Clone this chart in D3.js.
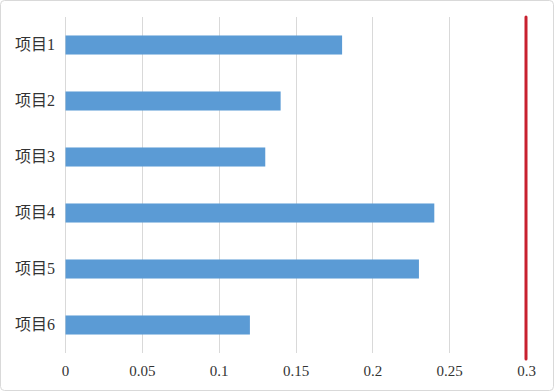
<!DOCTYPE html>
<html><head><meta charset="utf-8">
<script src="https://cdn.jsdelivr.net/npm/d3@7"></script>
<style>html,body{margin:0;padding:0;background:#fff;}svg{display:block;}</style>
</head><body>
<svg id="c" width="554" height="391"></svg>
<script>
const categories = ["项目1","项目2","项目3","项目4","项目5","项目6"];
const values = [0.18, 0.14, 0.13, 0.24, 0.23, 0.12];
const xTicks = [0, 0.05, 0.1, 0.15, 0.2, 0.25, 0.3];
const xTickLabels = ["0","0.05","0.1","0.15","0.2","0.25","0.3"];
const refValue = 0.3;

const svg = d3.select("#c");
const W = 554, H = 391;
const m = {left: 65, right: 28, top: 17, bottom: 38};

svg.append("rect").attr("x",0.5).attr("y",0.5).attr("width",W-1).attr("height",H-1)
  .attr("rx",4).attr("fill","#fff").attr("stroke","#d9d9d9");

const x = d3.scaleLinear().domain([0,0.3]).range([m.left, W-m.right]);
const y = d3.scaleBand().domain(categories).range([m.top, H-m.bottom]).paddingInner(0.66).paddingOuter(0.33);

// gridlines
svg.append("g").selectAll("line").data(xTicks.slice(0,-1)).join("line")
  .attr("x1",d=>Math.round(x(d))+0.5).attr("x2",d=>Math.round(x(d))+0.5)
  .attr("y1",m.top).attr("y2",H-m.bottom)
  .attr("stroke","#d9d9d9").attr("stroke-width",1);

// bars
svg.append("g").selectAll("rect").data(categories).join("rect")
  .attr("x",x(0)+0.5).attr("y",d=>y(d))
  .attr("width",(d,i)=>x(values[i])-x(0)).attr("height",y.bandwidth())
  .attr("fill","#5b9bd5");

// reference line
svg.append("line").attr("x1",x(refValue)).attr("x2",x(refValue))
  .attr("y1",m.top).attr("y2",H-m.bottom+6)
  .attr("stroke","#c8202f").attr("stroke-width",3).attr("stroke-linecap","round");

// x axis labels
const xAxis = d3.axisBottom(x).tickValues(xTicks).tickFormat((d,i)=>xTickLabels[i]).tickSize(0).tickPadding(0);
const gx = svg.append("g").attr("transform",`translate(0,${H-m.bottom+12})`).call(xAxis);
gx.select(".domain").remove();
gx.selectAll("text").attr("font-family","'Liberation Serif','Times New Roman',serif")
  .attr("font-size",15).attr("fill","#333");

// y axis labels
const yAxis = d3.axisLeft(y).tickSize(0).tickPadding(10);
const gy = svg.append("g").attr("transform",`translate(${m.left},0)`).call(yAxis);
gy.select(".domain").remove();
gy.selectAll("text").attr("font-family","'Liberation Serif','Noto Sans CJK SC',serif")
  .attr("font-size",16).attr("fill","#333");
</script>
</body></html>
